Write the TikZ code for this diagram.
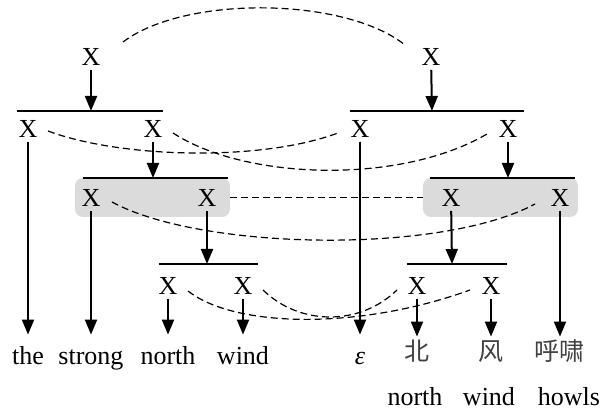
\documentclass[tikz,border=0pt]{standalone}
\usepackage{fontspec}
\setmainfont{Liberation Serif}
\newfontfamily\cjk{Noto Sans CJK SC}
\usetikzlibrary{arrows.meta}
\tikzset{nt/.style={inner sep=2pt,font=\fontsize{13}{15}\selectfont},
  word/.style={anchor=base,inner xsep=0pt,inner ysep=6pt,text height=9pt,text depth=0pt,font=\fontsize{13}{15}\selectfont},
  zh/.style={word,inner ysep=3pt,text=black!75,font=\cjk\fontsize{12.5}{15}\selectfont},
  arr/.style={-{Triangle[length=7.5pt,width=6pt]},line width=1pt},
  bar/.style={line width=1.2pt},
  link/.style={dash pattern=on 3.5pt off 2pt,line width=0.6pt},
  grp/.style={fill=gray!28,rounded corners=4pt,inner sep=0pt,minimum height=19.5pt,minimum width=77.5pt}}

\begin{document}
\begin{tikzpicture}[x=0.5pt,y=-0.5pt]
\useasboundingbox (0,0) rectangle (602,410);
% shaded phrase pairs
\node[grp] (gl) at (152.5,197.5) {};
\node[grp] (gr) at (500.5,197.5) {};
% source side
\node[nt] (xt1) at (91,57) {X};
\node[nt] (xl2a) at (28,129) {X};
\node[nt] (xl2b) at (153,129) {X};
\node[nt] (xl3a) at (91,198) {X};
\node[nt] (xl3b) at (207,198) {X};
\node[nt] (xl4a) at (168,286) {X};
\node[nt] (xl4b) at (243,286) {X};
% target side
\node[nt] (xt2) at (431,57) {X};
\node[nt] (xr2a) at (360,129) {X};
\node[nt] (xr2b) at (508,129) {X};
\node[nt] (xr3a) at (451,198) {X};
\node[nt] (xr3b) at (560,198) {X};
\node[nt] (xr4a) at (417,286) {X};
\node[nt] (xr4b) at (491,286) {X};
% words
\node[word] (the) at (28,365) {the};
\node[word] (strong) at (91,365) {strong};
\node[word] (north) at (168,365) {north};
\node[word] (wind) at (243,365) {wind};
\node[word] (eps) at (360,365) {\textit{ε}};
\node[zh] (bei) at (417,361) {北};
\node[zh] (feng) at (491,361) {风};
\node[zh] (huxiao) at (560,361) {呼啸};
\node[word] (gnorth) at (415,406) {north};
\node[word] (gwind) at (489,406) {wind};
\node[word] (ghowls) at (569,406) {howls};
% bars
\draw[bar] (17,111) -- (163,111);
\draw[bar] (350,111) -- (524,111);
\draw[bar] (83,178) -- (228,178);
\draw[bar] (430,178) -- (575,178);
\draw[bar] (159,264) -- (258,264);
\draw[bar] (407,264) -- (507,264);
\coordinate (jt1) at (91,111);
\coordinate (jt2) at (432,111);
\coordinate (jl3) at (153,178);
\coordinate (jr3) at (508,178);
\coordinate (jl4) at (207,264);
\coordinate (jr4) at (452,264);
% derivation arrows
\draw[arr] (xt1) -- (jt1);
\draw[arr] (xt2) -- (jt2);
\draw[arr] (xl2b) -- (jl3);
\draw[arr] (xr2b) -- (jr3);
\draw[arr] (xl3b) -- (jl4);
\draw[arr] (xr3a) -- (jr4);
\draw[arr] (xl2a) -- (the);
\draw[arr] (xl3a) -- (strong);
\draw[arr] (xl4a) -- (north);
\draw[arr] (xl4b) -- (wind);
\draw[arr] (xr2a) -- (eps);
\draw[arr] (xr4a) -- (bei);
\draw[arr] (xr4b) -- (feng);
\draw[arr] (xr3b) -- (huxiao);
% links between the two sides
\draw[link] ([shift={(32,-15)}]xt1.center) .. controls +(62,-47) and +(-60,-48) .. ([shift={(-26,-12)}]xt2.center);
\draw[link] ([shift={(20,2)}]xl2a.center) .. controls +(72,27) and +(-78,29) .. ([shift={(-22,4)}]xr2a.center);
\draw[link] ([shift={(20,4)}]xl2b.center) .. controls +(72,47) and +(-87,51) .. ([shift={(-21,5)}]xr2b.center);
\draw[link] (gl) -- (gr);
\draw[link] ([shift={(21,4)}]xl3a.center) .. controls +(88,48) and +(-95,51) .. ([shift={(-25,6)}]xr3b.center);
\draw[link] ([shift={(20,5)}]xl4a.center) .. controls +(47,37) and +(-110,40) .. ([shift={(-21,4)}]xr4b.center);
\draw[link] ([shift={(20,4)}]xl4b.center) .. controls +(37,36) and +(-37,36) .. ([shift={(-20,4)}]xr4a.center);
\end{tikzpicture}
\end{document}
